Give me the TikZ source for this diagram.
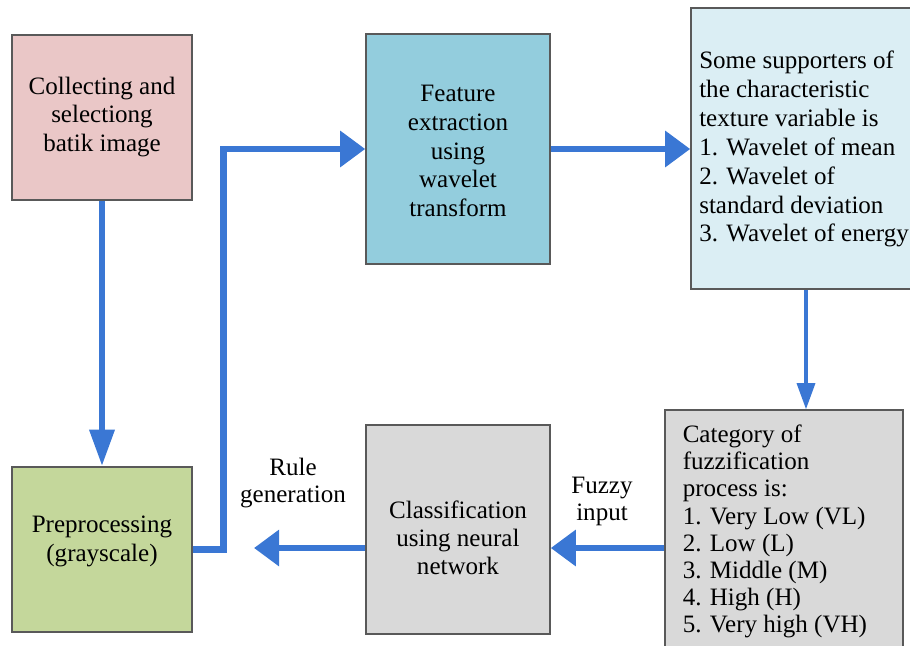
\documentclass[tikz,border=0pt]{standalone}
\usepackage{xcolor}
\definecolor{eac7c7}{HTML}{eac7c7}
\definecolor{c4d79b}{HTML}{c4d79b}
\definecolor{93cddd}{HTML}{93cddd}
\definecolor{dbeef4}{HTML}{dbeef4}
\definecolor{d9d9d9}{HTML}{d9d9d9}
\definecolor{595959}{HTML}{595959}
\definecolor{3a77d4}{HTML}{3a77d4}
\usepackage{tikz}
\usetikzlibrary{arrows.meta}
\usepackage{fontspec}
\setmainfont{Liberation Serif}

\begin{document}
\begin{tikzpicture}[x=0.025cm, y=-0.025cm,
                        box/.style 2 args={rectangle, draw=595959, line width=1.1pt, inner sep=0pt,
                            minimum width=#1*0.025cm, minimum height=#2*0.025cm},
                        txt/.style={align=center, inner sep=0pt, font=\fontsize{17.8}{20.5}\selectfont},
                        flow/.style={color=3a77d4, line width=4.8pt, -{Triangle[length=17.8pt, width=24.9pt]}},
                        thinflow/.style={color=3a77d4, line width=2.4pt, -{Triangle[length=18.5pt, width=12.8pt]}}]
                        \clip (0, 0) rectangle (910, 646);

                        \node (collect) at (102, 117.5) [box={180}{165}, fill=eac7c7] {};
                        \node (prep) at (102, 549.5) [box={180}{165}, fill=c4d79b] {};
                        \node (feat) at (458, 149) [box={184}{230}, fill=93cddd] {};
                        \node (supp) at (806, 148.5) [box={230}{281}, fill=dbeef4] {};
                        \node (classif) at (458, 529.5) [box={184}{209}, fill=d9d9d9] {};
                        \node (fuzzy) at (784, 548) [box={238}{276}, fill=d9d9d9] {};

                        \node (collect-t) at (102, 117) [txt] {Collecting and\\selectiong\\batik image};
                        \node (prep-t) at (102, 541) [txt] {Preprocessing\\(grayscale)};
                        \node (feat-t) at (458, 151) [txt] {Feature\\extraction\\using\\wavelet\\transform};
                        \node (supp-t) at (699, 51) [txt, anchor=north west, align=left]
                            {Some supporters of\\the characteristic\\texture variable is\\1. Wavelet of mean\\2. Wavelet of\\standard deviation\\3. Wavelet of energy};
                        \node (fuzzy-t) at (682.5, 424.7) [txt, anchor=north west, align=left, font=\fontsize{17.8}{19.3}\selectfont]
                            {Category of\\fuzzification\\process is:\\1. Very Low (VL)\\2. Low (L)\\3. Middle (M)\\4. High (H)\\5. Very high (VH)};
                        \node (classif-t) at (458, 538) [txt, font=\fontsize{17.8}{19.9}\selectfont] {Classification\\using neural\\network};
                        \node (rule-t) at (293, 483) [txt, font=\fontsize{17.8}{19}\selectfont] {Rule\\generation};
                        \node (input-t) at (602, 501) [txt, font=\fontsize{17.8}{19.2}\selectfont] {Fuzzy\\input};

                        \coordinate (rule-end) at (254, 548);

                        \draw[flow, -{Triangle[length=26pt, width=17pt]}] (collect) -- (prep);
                        \draw[flow] (prep.east) -- ++(31, 0) |- (feat.west);
                        \draw[flow] (feat.east) -- (feat.east -| supp.west);
                        \draw[thinflow] (supp.south) -- (supp.south |- fuzzy.north);
                        \draw[flow] (fuzzy.west) -- (fuzzy.west -| classif.east);
                        \draw[flow] (rule-end -| classif.west) -- (rule-end);
                    \end{tikzpicture}
\end{document}
